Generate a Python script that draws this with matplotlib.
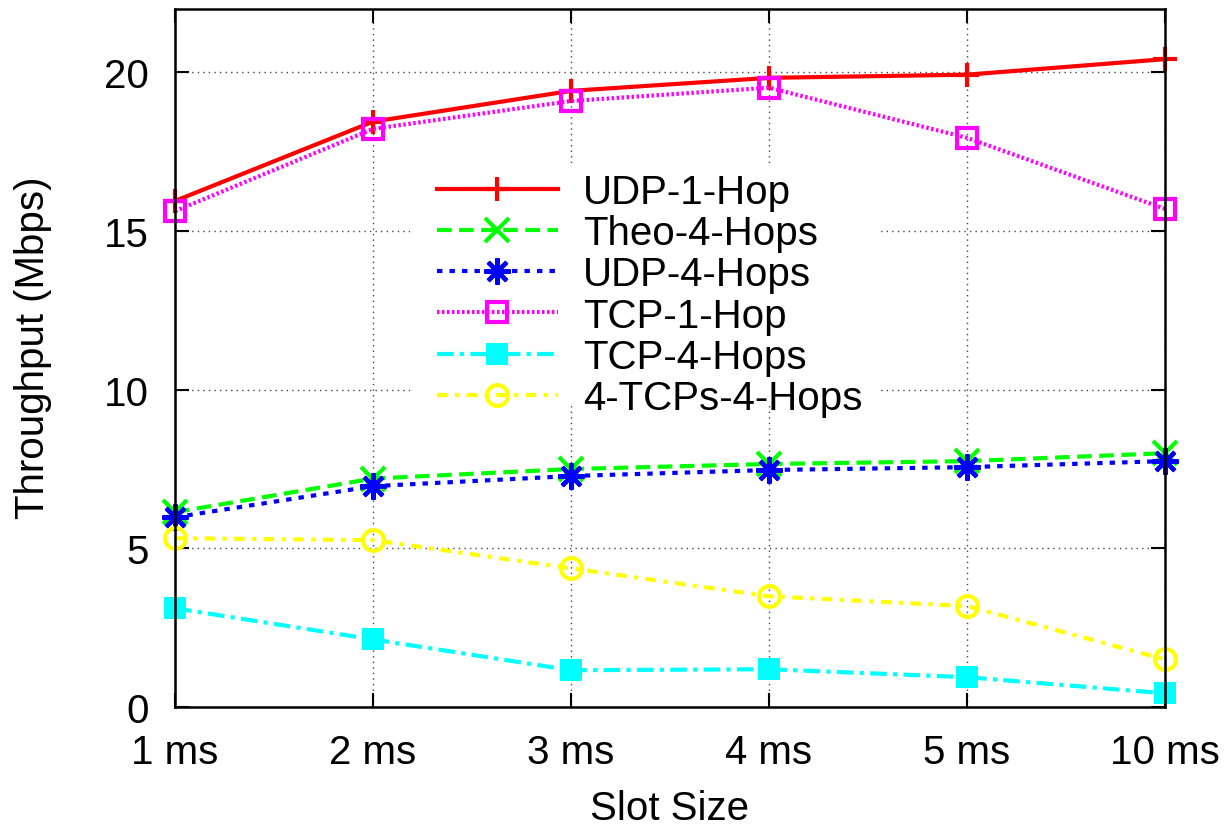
import matplotlib
matplotlib.use("Agg")
import matplotlib.pyplot as plt
from matplotlib.patches import Rectangle

plt.rcParams['font.family'] = ['Liberation Sans', 'DejaVu Sans']

categories = ["1 ms", "2 ms", "3 ms", "4 ms", "5 ms", "10 ms"]
udp_1hop = [15.95, 18.45, 19.42, 19.83, 19.93, 20.42]
theo_4hops = [6.14, 7.2, 7.5, 7.66, 7.75, 8.0]
udp_4hops = [5.98, 6.96, 7.28, 7.47, 7.56, 7.75]
tcp_1hop = [15.63, 18.22, 19.1, 19.52, 17.94, 15.7]
tcp_4hops = [3.11, 2.13, 1.16, 1.19, 0.94, 0.43]
tcps4_4hops = [5.32, 5.26, 4.37, 3.49, 3.18, 1.5]
yticks = [0, 5, 10, 15, 20]

FS = 29
W, H = 1231, 828
fig = plt.figure(figsize=(W / 100, H / 100), dpi=100)
ax = fig.add_axes([175 / W, 1 - 708 / H, 990 / W, 698 / H])
x = list(range(len(categories)))

ax.plot(x, udp_1hop, color='#ff0000', lw=3, ls='-', marker='+', ms=17, mew=3,
        label='UDP-1-Hop', clip_on=False)
ax.plot(x, theo_4hops, color='#00ff00', lw=3, ls=(0, (3.5, 1.8)), marker='x', ms=17, mew=3,
        label='Theo-4-Hops', clip_on=False)
ax.plot(x, udp_4hops, color='#0000ff', lw=3, ls=(0, (1.3, 1.7)), marker=(8, 2, 0), ms=19, mew=3,
        label='UDP-4-Hops', clip_on=False)
ax.plot(x, tcp_1hop, color='#ff00ff', lw=3, ls=(0, (0.6, 0.6)), marker='s', ms=14.5, mew=3,
        mfc='none', label='TCP-1-Hop', clip_on=False)
ax.plot(x, tcp_4hops, color='#00ffff', lw=3, ls=(0, (4, 1.5, 1, 1.5)), marker='s', ms=16, mew=0,
        label='TCP-4-Hops', clip_on=False)
ax.plot(x, tcps4_4hops, color='#ffff00', lw=3, ls=(0, (2.5, 1.8, 1, 1.8)), marker='o', ms=15, mew=3,
        mfc='none', label='4-TCPs-4-Hops', clip_on=False)

ax.set_xlim(0, 5)
ax.set_ylim(0, 22)
ax.set_xticks(x)
ax.set_xticklabels(categories)
ax.set_yticks(yticks)
ax.tick_params(axis='both', which='both', direction='in', length=10, width=1.5,
               top=True, right=True, labelsize=FS, pad=19)
ax.grid(True, color='#444444', ls=(0, (1, 3)), lw=1)
for s in ax.spines.values():
    s.set_linewidth(1.8)
    s.set_zorder(5)

# blank area behind the key (hides the grid like gnuplot's key)
ax.add_patch(Rectangle((235 / 990, (708 - 405) / 698), (880 - 410) / 990, (405 - 168) / 698,
                       transform=ax.transAxes, facecolor='white', edgecolor='none', zorder=1.8))

fig.text(670 / W, 1 - 820 / H, 'Slot Size', fontsize=FS, ha='center', va='baseline')
fig.text(33 / W, 1 - 348 / H, 'Throughput (Mbps)', fontsize=FS, ha='center', va='center',
         rotation=90)

leg = ax.legend(loc='upper left', bbox_to_anchor=(0.2606, 0.771), fontsize=FS,
                frameon=False, handlelength=3.0, handletextpad=0.62, labelspacing=0.08,
                borderpad=0.1, borderaxespad=0)

fig.savefig('out.png', dpi=100)
